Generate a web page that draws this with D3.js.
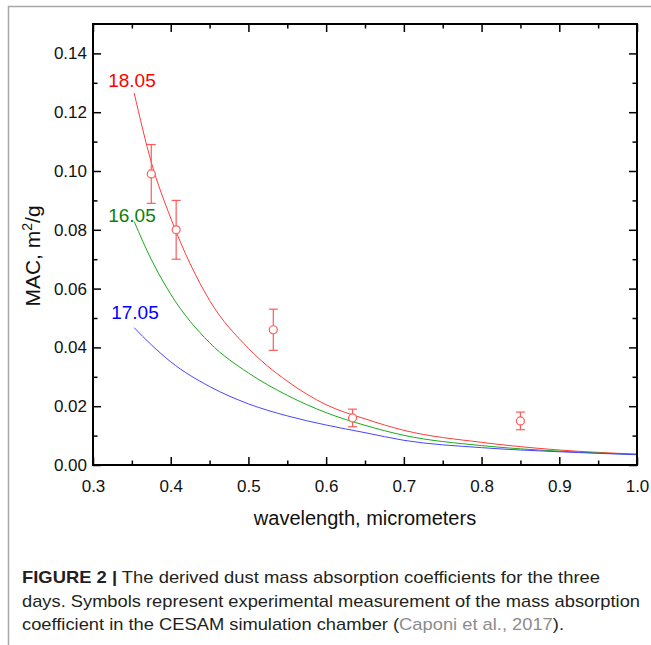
<!DOCTYPE html>
<html>
<head>
<meta charset="utf-8">
<script src="https://cdn.jsdelivr.net/npm/d3@7"></script>
<style>
    body { margin: 0; background: #fff; }
    .tick text { font-family: "Liberation Sans", Arial, sans-serif; font-size: 17px; fill: #111; }
    .tick line { stroke: #000; stroke-width: 1.5; }
    .axisTitle { font-family: "Liberation Sans", Arial, sans-serif; font-size: 20px; fill: #111; }
    .curveLabel { font-family: "Liberation Sans", Arial, sans-serif; font-size: 19px; }
    .caption { font-family: "Liberation Sans", Arial, sans-serif; font-size: 17px; fill: #231f20; }
</style>
</head>
<body>
<script>
//wavelengths (micrometers) at which the fitted curves were read
var wavelengths = [0.353, 0.375, 0.4, 0.45, 0.5, 0.55, 0.6, 0.65, 0.7, 0.8, 0.9, 1.0];

//MAC values (m2/g) of the derived curves for each day
var mac1805 = [0.1265, 0.103, 0.084, 0.0560, 0.0397, 0.0285, 0.0205, 0.0157, 0.0118, 0.0077, 0.0051, 0.0037];
var mac1605 = [0.0828, 0.0699, 0.0581, 0.0416, 0.0313, 0.0237, 0.0178, 0.0135, 0.0101, 0.0066, 0.0047, 0.0036];
var mac1705 = [0.0467, 0.0409, 0.0351, 0.0267, 0.0208, 0.0167, 0.0136, 0.0110, 0.0084, 0.0059, 0.0045, 0.0035];
var dayNames = ["18.05", "16.05", "17.05"];

//chamber measurements (CESAM) with error bars
var measWavelengths = [0.375, 0.407, 0.532, 0.634, 0.850];
var measValues = [0.099, 0.080, 0.046, 0.016, 0.015];
var measErrors = [0.010, 0.010, 0.007, 0.003, 0.003];

//tick values
var xTicks = [0.3, 0.4, 0.5, 0.6, 0.7, 0.8, 0.9, 1.0];
var xMinorTicks = [0.35, 0.45, 0.55, 0.65, 0.75, 0.85, 0.95];
var yTicks = [0, 0.02, 0.04, 0.06, 0.08, 0.10, 0.12, 0.14];
var yMinorTicks = [0.01, 0.03, 0.05, 0.07, 0.09, 0.11, 0.13];

window.onload = setChart;

function setChart(){
    var width = 651,
        height = 645,
        left = 93,
        right = 637,
        top = 24,
        bottom = 465;

    var svg = d3.select("body")
        .append("svg")
        .attr("width", width)
        .attr("height", height);

    //gray figure frame (top and left edges)
    svg.append("path")
        .attr("d", "M8.5," + height + "V6.5H" + width)
        .attr("fill", "none")
        .attr("stroke", "#a8a8a8")
        .attr("stroke-width", 1.5);

    var x = d3.scaleLinear().domain([0.3, 1.0]).range([left, right]);
    var y = d3.scaleLinear().domain([0, 0.15]).range([bottom, top]);

    //axes with inward ticks on all four sides
    function addAxis(axis, tr){
        var g = svg.append("g")
            .attr("transform", tr)
            .call(axis);
        g.select(".domain").remove();
        return g;
    }

    addAxis(d3.axisBottom(x).tickValues(xTicks).tickSize(-8).tickSizeOuter(0).tickPadding(15)
        .tickFormat(d3.format(".1f")), "translate(0," + bottom + ")");
    addAxis(d3.axisBottom(x).tickValues(xMinorTicks).tickSize(-4.5).tickFormat(""), "translate(0," + bottom + ")");
    addAxis(d3.axisTop(x).tickValues(xTicks).tickSize(-8).tickFormat(""), "translate(0," + top + ")");
    addAxis(d3.axisTop(x).tickValues(xMinorTicks).tickSize(-4.5).tickFormat(""), "translate(0," + top + ")");

    addAxis(d3.axisLeft(y).tickValues(yTicks).tickSize(-8).tickPadding(6)
        .tickFormat(d3.format(".2f")), "translate(" + left + ",0)");
    addAxis(d3.axisLeft(y).tickValues(yMinorTicks).tickSize(-4.5).tickFormat(""), "translate(" + left + ",0)");
    addAxis(d3.axisRight(y).tickValues(yTicks).tickSize(-8).tickFormat(""), "translate(" + right + ",0)");
    addAxis(d3.axisRight(y).tickValues(yMinorTicks).tickSize(-4.5).tickFormat(""), "translate(" + right + ",0)");

    //curves
    var series = [mac1805, mac1605, mac1705];
    var lineColors = ["#ff3c3c", "#1aaa1a", "#4646ff"];
    var labelColors = ["#ff0000", "#0a800a", "#0000ff"];
    var labelDy = [-6, 0, -9];

    var line = d3.line()
        .x(function(d, i){ return x(wavelengths[i]); })
        .y(function(d){ return y(d); })
        .curve(d3.curveMonotoneX);

    svg.selectAll(".macLine")
        .data(series)
        .enter()
        .append("path")
        .attr("class", "macLine")
        .attr("d", line)
        .attr("fill", "none")
        .attr("stroke", function(d, i){ return lineColors[i]; })
        .attr("stroke-width", 1);

    //day labels above the start of each curve
    svg.selectAll(".curveLabel")
        .data(series)
        .enter()
        .append("text")
        .attr("class", "curveLabel")
        .attr("x", function(d, i){ return x(wavelengths[0]) - 26 + (i == 2 ? 3 : 0); })
        .attr("y", function(d, i){ return y(d[0]) + labelDy[i]; })
        .attr("fill", function(d, i){ return labelColors[i]; })
        .text(function(d, i){ return dayNames[i]; });

    //measurements: error bars and open circles
    var meas = measValues.map(function(v, i){
        return {w: measWavelengths[i], v: v, e: measErrors[i]};
    });
    var pts = svg.selectAll(".meas")
        .data(meas)
        .enter()
        .append("g")
        .attr("class", "meas")
        .attr("stroke", "#ff5a5a")
        .attr("stroke-width", 1.2);

    pts.append("line")
        .attr("x1", function(d){ return x(d.w); })
        .attr("x2", function(d){ return x(d.w); })
        .attr("y1", function(d){ return y(d.v + d.e); })
        .attr("y2", function(d){ return y(d.v - d.e); });
    pts.append("line")
        .attr("x1", function(d){ return x(d.w) - 4.5; })
        .attr("x2", function(d){ return x(d.w) + 4.5; })
        .attr("y1", function(d){ return y(d.v + d.e); })
        .attr("y2", function(d){ return y(d.v + d.e); });
    pts.append("line")
        .attr("x1", function(d){ return x(d.w) - 4.5; })
        .attr("x2", function(d){ return x(d.w) + 4.5; })
        .attr("y1", function(d){ return y(d.v - d.e); })
        .attr("y2", function(d){ return y(d.v - d.e); });
    pts.append("circle")
        .attr("cx", function(d){ return x(d.w); })
        .attr("cy", function(d){ return y(d.v); })
        .attr("r", 4)
        .attr("fill", "#fff");

    //plot frame
    svg.append("rect")
        .attr("x", left)
        .attr("y", top)
        .attr("width", right - left)
        .attr("height", bottom - top)
        .attr("fill", "none")
        .attr("stroke", "#000")
        .attr("stroke-width", 2);

    //axis titles
    svg.append("text")
        .attr("class", "axisTitle")
        .attr("x", (left + right) / 2)
        .attr("y", 525)
        .attr("text-anchor", "middle")
        .text("wavelength, micrometers");

    var yTitle = svg.append("text")
        .attr("class", "axisTitle")
        .attr("transform", "translate(40,256) rotate(-90)")
        .attr("text-anchor", "middle")
        .style("font-size", "21px");
    yTitle.append("tspan").text("MAC, m");
    yTitle.append("tspan").attr("dy", -8).style("font-size", "14px").text("2");
    yTitle.append("tspan").attr("dy", 8).text("/g");

    //caption
    var cap1 = svg.append("text").attr("class", "caption")
        .attr("x", 22).attr("y", 583)
        .attr("textLength", 578).attr("lengthAdjust", "spacingAndGlyphs");
    cap1.append("tspan").style("font-weight", "bold").text("FIGURE 2 |");
    cap1.append("tspan").text(" The derived dust mass absorption coefficients for the three");

    svg.append("text").attr("class", "caption")
        .attr("x", 22).attr("y", 606.5)
        .attr("textLength", 618).attr("lengthAdjust", "spacingAndGlyphs")
        .text("days. Symbols represent experimental measurement of the mass absorption");

    var cap3 = svg.append("text").attr("class", "caption")
        .attr("x", 22).attr("y", 630)
        .attr("textLength", 542).attr("lengthAdjust", "spacingAndGlyphs");
    cap3.append("tspan").text("coefficient in the CESAM simulation chamber (");
    cap3.append("tspan").attr("fill", "#8c8c8c").text("Caponi et al., 2017");
    cap3.append("tspan").text(").");
}
</script>
</body>
</html>
